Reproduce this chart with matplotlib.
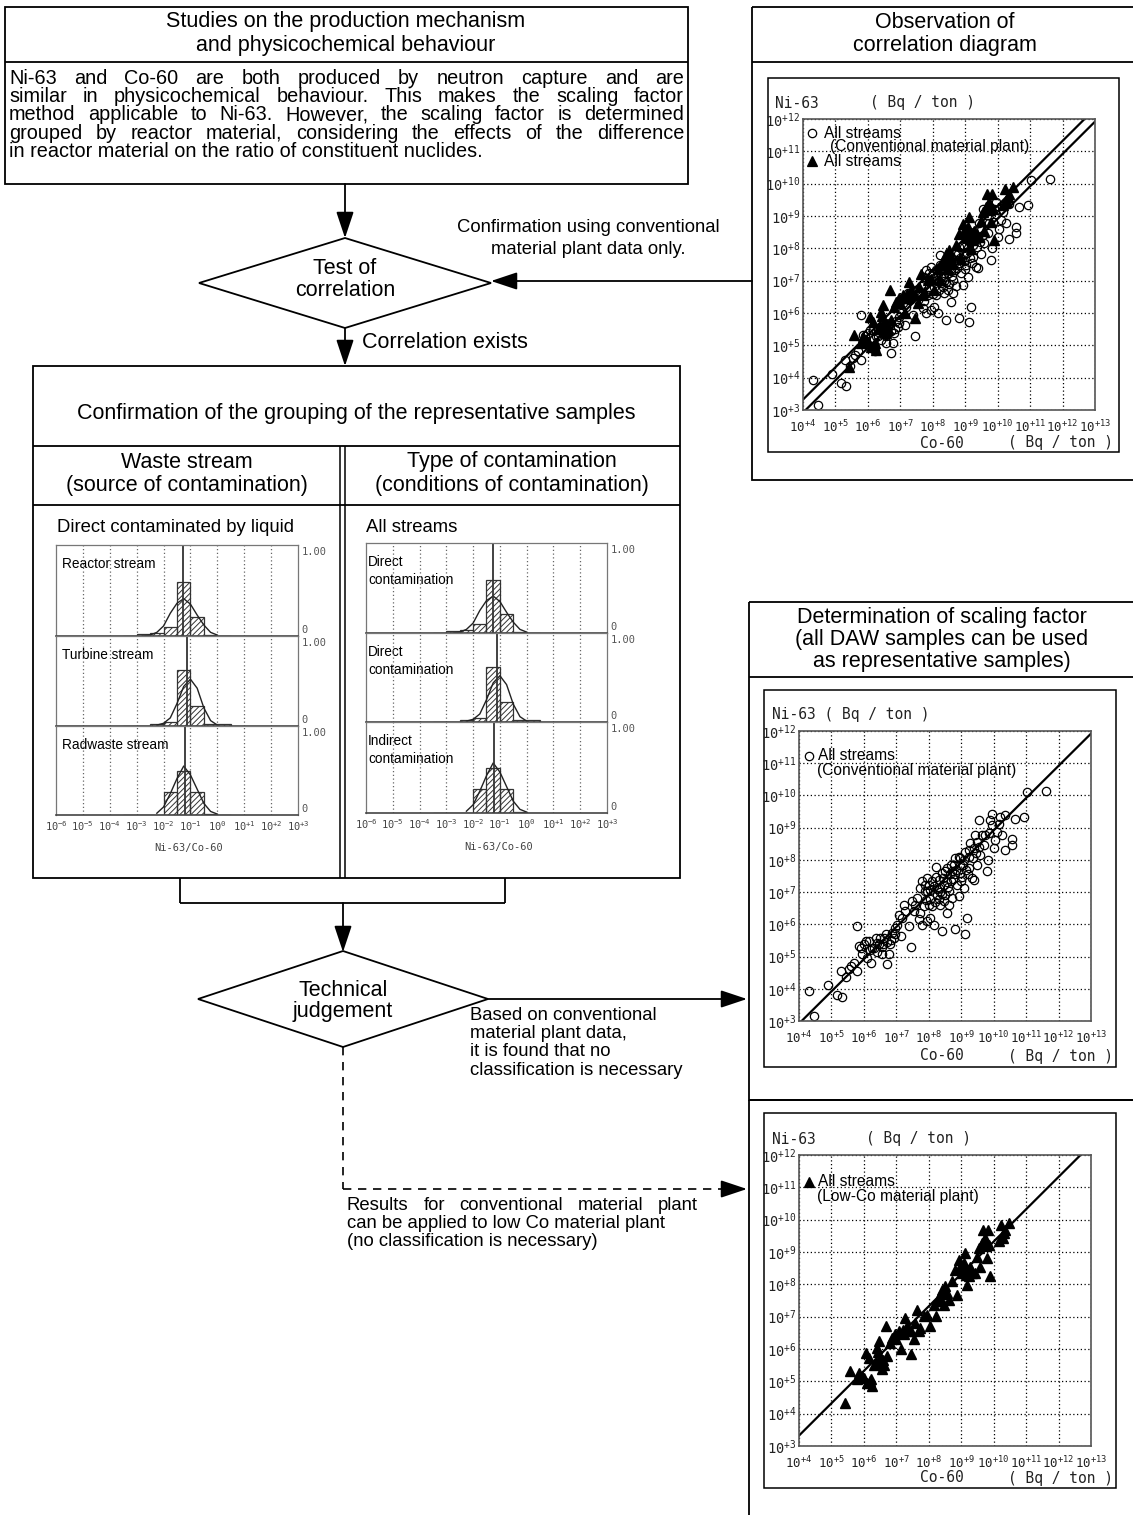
import numpy as np
import matplotlib
matplotlib.use("Agg")
import matplotlib.pyplot as plt
from matplotlib.patches import Polygon, Rectangle
from matplotlib.ticker import FixedLocator, FuncFormatter, NullLocator

W, H = 1133, 1515
SANS = "Liberation Sans"
MONO = "DejaVu Sans Mono"
plt.rcParams["hatch.linewidth"] = 0.7

# ---- histogram data (log10 of Ni-63/Co-60) ----
bin_edges = [-3.5, -3.0, -2.5, -2.0, -1.5, -1.0, -0.5, 0.0, 0.5]

reactor_h = [0.005, 0.02, 0.03, 0.10, 0.59, 0.21, 0.01, 0.0]
turbine_h = [0.0, 0.0, 0.02, 0.05, 0.62, 0.22, 0.02, 0.02]
radwaste_h = [0.0, 0.0, 0.0, 0.26, 0.50, 0.26, 0.01, 0.0]

reactor_mean = -1.27
turbine_mean = -1.11
radwaste_mean = -1.21

reactor_fit_x = [-2.75, -2.5, -2.25, -2.0, -1.75, -1.5, -1.25, -1.0, -0.75, -0.5, -0.25, 0.0]
reactor_fit_y = [0.0, 0.01, 0.04, 0.11, 0.25, 0.36, 0.41, 0.35, 0.23, 0.12, 0.04, 0.01]
turbine_fit_x = [-2.25, -2.0, -1.75, -1.5, -1.25, -1.0, -0.75, -0.5, -0.25, 0.0]
turbine_fit_y = [0.01, 0.03, 0.09, 0.25, 0.44, 0.52, 0.42, 0.20, 0.06, 0.01]
radwaste_fit_x = [-2.25, -2.0, -1.75, -1.5, -1.25, -1.0, -0.75, -0.5, -0.25, 0.0]
radwaste_fit_y = [0.02, 0.09, 0.24, 0.41, 0.55, 0.45, 0.29, 0.13, 0.04, 0.01]

# ---- correlation data, log10(Bq/ton) ----
conv_co = [4.31, 4.46, 4.89, 5.18, 5.33, 5.28, 5.44, 5.59, 5.79, 5.79,
           5.85, 5.95, 6.05, 6.10, 6.21, 6.26, 6.36, 6.46, 6.56, 6.62,
           6.72, 6.77, 6.82, 6.92, 6.97, 7.13, 7.18, 7.23, 7.38, 7.44,
           7.54, 7.59, 7.69, 7.79, 7.84, 7.89, 7.95, 8.00, 8.05, 8.10,
           8.15, 8.21, 8.26, 8.31, 8.41, 8.46, 8.51, 8.56, 8.62, 8.67,
           8.77, 8.82, 8.87, 8.92, 8.97, 9.03, 9.08, 9.11, 9.18, 9.23,
           9.33, 9.38, 9.44, 9.49, 9.54, 9.59, 9.69, 9.79, 9.82, 9.85,
           9.90, 9.95, 10.00, 10.05, 10.15, 10.21, 10.26, 10.36, 10.36, 10.56,
           10.56, 10.67, 10.92, 11.03, 11.61,
           5.54, 5.69, 5.90, 6.00, 6.15, 6.31, 6.41, 6.51, 6.67, 6.87,
           7.03, 7.08, 7.28, 7.49, 7.64, 7.74, 7.79, 7.87, 7.95, 8.05,
           8.10, 8.21, 8.31, 8.41, 8.46, 8.56, 8.67, 8.72, 8.82, 8.92,
           8.97, 9.08, 9.13, 9.23, 9.28, 9.38, 9.49, 9.64, 9.74, 9.95,
           10.10, 8.72, 8.62, 8.36, 7.95, 7.74,
           8.15, 8.25, 8.35, 8.45, 8.55, 8.65, 8.75, 8.85, 8.95, 9.05,
           9.15, 9.25, 9.35, 9.45, 9.55, 8.05, 8.18, 8.30, 8.40, 8.50,
           8.00, 7.90, 8.60, 8.80, 9.00, 9.20,
           6.20, 6.40, 6.55, 6.70, 6.85, 6.95, 6.60]
conv_ni = [3.94, 3.17, 4.11, 3.82, 3.74, 4.56, 4.35, 4.71, 4.56, 5.94,
           5.33, 5.07, 5.48, 4.97, 4.81, 5.28, 5.58, 5.38, 5.07, 5.58,
           4.76, 5.07, 5.38, 5.58, 5.89, 5.64, 6.20, 6.61, 5.94, 5.30,
           6.41, 6.61, 6.15, 5.99, 6.56, 7.02, 7.43, 7.23, 6.20, 6.56,
           5.99, 7.79, 6.92, 7.12, 5.79, 6.71, 7.64, 6.35, 7.02, 7.33,
           7.84, 5.84, 7.23, 6.87, 8.05, 7.48, 7.12, 5.71, 6.20, 7.74,
           7.43, 7.38, 8.77, 7.84, 9.23, 8.15, 8.46, 7.64, 8.00, 8.82,
           9.23, 9.43, 8.36, 8.61, 9.12, 9.33, 8.77, 9.38, 8.30, 8.66,
           8.46, 9.28, 9.33, 10.12, 10.15,
           4.61, 4.81, 5.28, 5.38, 5.48, 5.28, 5.43, 5.58, 5.69, 5.74,
           5.99, 6.30, 6.41, 6.71, 6.82, 7.12, 7.33, 7.23, 7.02, 7.07,
           7.33, 7.48, 7.38, 7.59, 7.23, 7.74, 7.84, 7.64, 8.05, 8.10,
           7.84, 8.00, 8.25, 8.10, 8.51, 8.36, 8.56, 8.77, 8.77, 9.07,
           8.87, 6.82, 6.61, 6.61, 6.10, 6.36,
           7.20, 7.10, 7.00, 7.45, 7.30, 7.55, 7.40, 7.70, 7.60, 7.85,
           7.70, 8.30, 8.05, 8.20, 8.40, 6.80, 6.70, 6.80, 6.95, 6.90,
           6.60, 6.75, 7.15, 7.55, 7.35, 7.55,
           5.20, 5.15, 5.30, 5.45, 5.50, 5.70, 5.40]

low_co = [5.42, 5.56, 5.79, 5.85, 5.95, 6.05, 6.10, 6.15, 6.21, 6.26,
          6.36, 6.41, 6.46, 6.51, 6.56, 6.62, 6.67, 6.72, 6.82, 6.87,
          6.97, 7.08, 7.15, 7.23, 7.28, 7.33, 7.38, 7.44, 7.54, 7.59,
          7.64, 7.69, 7.74, 7.85, 7.95, 8.05, 8.15, 8.21, 8.26, 8.31,
          8.41, 8.46, 8.51, 8.56, 8.62, 8.72, 8.82, 8.87, 8.92, 8.97,
          9.03, 9.08, 9.13, 9.18, 9.23, 9.28, 9.33, 9.44, 9.49, 9.54,
          9.59, 9.64, 9.67, 9.74, 9.79, 9.82, 9.85, 9.90, 10.17, 10.24,
          10.31, 10.36, 10.46, 10.28,
          6.00, 6.20, 6.30, 6.45, 6.50, 6.60, 7.00, 7.20, 7.45, 8.35,
          8.40, 9.10, 9.15, 9.30, 9.70, 9.75]
low_ni = [4.34, 5.32, 5.06, 5.27, 5.17, 5.88, 4.96, 5.73, 5.06, 4.86,
          5.58, 6.04, 6.24, 5.73, 5.37, 5.52, 6.71, 5.78, 6.19, 6.35,
          6.45, 6.55, 5.99, 6.45, 6.96, 6.71, 6.55, 5.83, 6.30, 6.81,
          7.22, 6.55, 6.66, 7.02, 7.06, 6.71, 7.37, 7.02, 7.47, 7.62,
          7.84, 7.37, 7.94, 7.73, 7.53, 8.09, 8.45, 7.68, 8.76, 8.55,
          8.35, 8.66, 8.96, 7.99, 8.25, 8.55, 8.35, 8.35, 8.86, 9.12,
          8.55, 9.27, 9.69, 9.43, 8.81, 9.69, 9.22, 8.25, 9.33, 9.84,
          9.58, 9.69, 9.89, 9.43,
          5.10, 5.00, 5.50, 5.90, 5.60, 5.65, 6.30, 6.60, 6.55, 7.50,
          7.70, 8.40, 8.30, 8.45, 9.35, 9.20]

# scaling factors (Ni-63 / Co-60)
sf_conv = 0.083
sf_low = 0.21

BIG = 15.5     # box titles, decisions
BODY = 14.3    # justified paragraph
NOTE = 13.3    # side notes on the arrows

fig = plt.figure(figsize=(W / 100, H / 100), dpi=100)
base = fig.add_axes([0, 0, 1, 1])
base.set_xlim(0, W)
base.set_ylim(H, 0)
base.axis("off")
renderer = fig.canvas.get_renderer()


def px_axes(x0, y0, x1, y1):
    ax = fig.add_axes([x0 / W, 1 - y1 / H, (x1 - x0) / W, (y1 - y0) / H])
    ax.patch.set_visible(False)
    return ax


def pow_label(v, pos=None):
    k = int(round(np.log10(v)))
    if k == 0:
        return r"$\mathregular{10^{0}}$"
    return r"$\mathregular{10^{%+d}}$" % k


def line(xs, ys, **kw):
    kw.setdefault("color", "k")
    kw.setdefault("lw", 1.3)
    base.plot(xs, ys, solid_capstyle="butt", **kw)


def arrow(x0, y0, x1, y1):
    base.annotate("", xy=(x1, y1), xytext=(x0, y0),
                  arrowprops=dict(arrowstyle="-|>,head_length=0.9,head_width=0.3",
                                  color="k", lw=1.3, mutation_scale=18,
                                  shrinkA=0, shrinkB=0))


def box(x0, y0, x1, y1, lw=1.3):
    base.add_patch(Rectangle((x0, y0), x1 - x0, y1 - y0, fill=False,
                             lw=lw, ec="k"))


def txt(x, y, s, size=BIG, ha="center", **kw):
    base.text(x, y, s, fontsize=size, family=SANS, ha=ha, va="center", **kw)


def justified(x0, x1, y, s, size=BODY):
    words = s.split()
    items = [base.text(0, y, w, fontsize=size, family=SANS, ha="left",
                       va="center") for w in words]
    widths = [t.get_window_extent(renderer).width for t in items]
    gap = (x1 - x0 - sum(widths)) / (len(words) - 1)
    x = x0
    for t, w in zip(items, widths):
        t.set_x(x)
        x += w + gap


def diamond(cx, cy, hw, hh):
    base.add_patch(Polygon([(cx - hw, cy), (cx, cy - hh), (cx + hw, cy),
                            (cx, cy + hh)], closed=True, fill=False,
                           lw=1.3, ec="k"))


# ---- top-left box ----
box(5, 7, 688, 184)
line([5, 688], [62, 62])
txt(346, 22, "Studies on the production mechanism")
txt(346, 45, "and physicochemical behaviour")
body = ["Ni-63 and Co-60 are both produced by neutron capture and are",
        "similar in physicochemical behaviour. This makes the scaling factor",
        "method applicable to Ni-63. However, the scaling factor is determined",
        "grouped by reactor material, considering the effects of the difference"]
for i, s in enumerate(body):
    justified(9, 684, 78 + 18.4 * i, s)
txt(9, 78 + 18.4 * 4, "in reactor material on the ratio of constituent nuclides.",
    size=BODY, ha="left")

# ---- test of correlation ----
arrow(345, 184, 345, 238)
diamond(345, 283, 146, 45)
txt(345, 268, "Test of")
txt(345, 290, "correlation")
arrow(752, 281, 491, 281)
txt(588, 228, "Confirmation using conventional", size=NOTE)
txt(588, 249, "material plant data only.", size=NOTE)
arrow(345, 328, 345, 366)
txt(362, 342, "Correlation exists", ha="left")

# ---- grouping box ----
box(33, 366, 680, 878)
line([33, 680], [446, 446])
line([33, 680], [505, 505])
line([340, 340], [446, 878], lw=1.1)
line([345, 345], [446, 878], lw=1.1)
txt(356, 413, "Confirmation of the grouping of the representative samples")
txt(187, 462, "Waste stream")
txt(187, 486, "(source of contamination)")
txt(512, 462, "Type of contamination")
txt(512, 486, "(conditions of contamination)")
txt(57, 527, "Direct contaminated by liquid", size=13.3, ha="left")
txt(366, 528, "All streams", size=13.3, ha="left")

hist_sets = [(reactor_h, reactor_mean, reactor_fit_x, reactor_fit_y),
             (turbine_h, turbine_mean, turbine_fit_x, turbine_fit_y),
             (radwaste_h, radwaste_mean, radwaste_fit_x, radwaste_fit_y)]
left_labels = [["Reactor stream"], ["Turbine stream"], ["Radwaste stream"]]
right_labels = [["Direct", "contamination"], ["Direct", "contamination"],
                ["Indirect", "contamination"]]
columns = [(56, 298, [545, 636, 726, 815], left_labels, 6),
           (366, 607, [543, 633, 722, 813], right_labels, 2)]

edges = 10.0 ** np.array(bin_edges)
for x0, x1, ys, labels, lx in columns:
    for i, (hts, mean, fx, fy) in enumerate(hist_sets):
        ax = px_axes(x0, ys[i], x1, ys[i + 1])
        ax.set_xscale("log")
        ax.set_xlim(1e-6, 1e3)
        ax.set_ylim(0, 1)
        for k in range(-5, 3):
            ax.axvline(10.0 ** k, color="#666", ls=(0, (1, 2)), lw=0.9, zorder=0)
        ax.bar(edges[:-1], hts, width=np.diff(edges), align="edge",
               fill=False, hatch="//////", edgecolor="#333", lw=0.9)
        ax.plot(10.0 ** np.array(fx), fy, color="#222", lw=1.0)
        ax.axvline(10.0 ** mean, color="#333", lw=1.3)
        ax.set_yticks([])
        ax.yaxis.set_minor_locator(NullLocator())
        for s in ["left", "right", "top"]:
            ax.spines[s].set_color("#777")
            ax.spines[s].set_linewidth(0.9)
        ax.spines["bottom"].set_color("#444")
        ax.spines["bottom"].set_linewidth(1.2)
        ax.text(1.015, 0.98, "1.00", transform=ax.transAxes, family=MONO,
                fontsize=7.5, color="#555", va="top", ha="left")
        ax.text(1.015, 0.01, "0", transform=ax.transAxes, family=MONO,
                fontsize=7.5, color="#555", va="bottom", ha="left")
        ax.xaxis.set_minor_locator(NullLocator())
        if i == 2:
            ax.xaxis.set_major_locator(FixedLocator(10.0 ** np.arange(-6, 4)))
            ax.xaxis.set_major_formatter(FuncFormatter(pow_label))
            ax.tick_params(axis="x", length=0, pad=3, labelsize=7.5,
                           labelcolor="#444", labelfontfamily=MONO)
            ax.text(0.55, -0.32, "Ni-63/Co-60", transform=ax.transAxes,
                    family=MONO, fontsize=7.5, color="#444", ha="center", va="top")
        else:
            ax.set_xticks([])
        for j, s in enumerate(labels[i]):
            base.text(x0 + lx, ys[i] + 19 + 18 * j, s, fontsize=9.8, family=SANS,
                      ha="left", va="center")

# ---- bracket and technical judgement ----
line([180, 180], [878, 903])
line([505, 505], [878, 903])
line([180, 505], [903, 903])
arrow(343, 903, 343, 952)
diamond(343, 999, 145, 48)
txt(343, 990, "Technical")
txt(343, 1012, "judgement")
arrow(488, 999, 747, 999)
for i, s in enumerate(["Based on conventional", "material plant data,",
                       "it is found that no", "classification is necessary"]):
    txt(470, 1015 + 18.5 * i, s, size=NOTE, ha="left")
line([343, 343], [1047, 1189], lw=1.2, ls=(0, (5, 4)))
line([343, 735], [1189, 1189], lw=1.2, ls=(0, (5, 4)))
arrow(733, 1189, 747, 1189)
justified(347, 698, 1205, "Results for conventional material plant", size=NOTE)
txt(347, 1223, "can be applied to low Co material plant", size=NOTE, ha="left")
txt(347, 1241, "(no classification is necessary)", size=NOTE, ha="left")

# ---- right column boxes ----
box(752, 7, 1140, 480)
line([752, 1140], [62, 62])
txt(945, 22, "Observation of")
txt(945, 45, "correlation diagram")

box(749, 602, 1140, 1100)
line([749, 1140], [677, 677])
txt(942, 617, "Determination of scaling factor")
txt(942, 640, "(all DAW samples can be used")
txt(942, 662, "as representative samples)")

box(749, 1100, 1140, 1530)


def corr_axes(frame, pos, ylab, xlab_y, series, legend):
    box(*frame, lw=1.1)
    ax = px_axes(*pos)
    ax.set_xscale("log")
    ax.set_yscale("log")
    ax.set_xlim(1e4, 1e13)
    ax.set_ylim(1e3, 1e12)
    ax.xaxis.set_major_locator(FixedLocator(10.0 ** np.arange(4, 14)))
    ax.yaxis.set_major_locator(FixedLocator(10.0 ** np.arange(3, 13)))
    ax.xaxis.set_minor_locator(NullLocator())
    ax.yaxis.set_minor_locator(NullLocator())
    ax.xaxis.set_major_formatter(FuncFormatter(pow_label))
    ax.yaxis.set_major_formatter(FuncFormatter(pow_label))
    ax.grid(True, color="k", ls=(0, (1, 2)), lw=0.9)
    ax.set_axisbelow(True)
    for s in ax.spines.values():
        s.set_color("#555")
        s.set_linewidth(1.2)
    ax.tick_params(axis="x", length=0, pad=6, labelsize=9,
                   labelfontfamily=MONO, labelcolor="#222")
    ax.tick_params(axis="y", length=0, pad=2, labelsize=9.8,
                   labelfontfamily=MONO, labelcolor="#222")
    xs = np.array([1e4, 1e13])
    for co, ni, marker, sf in series:
        if marker == "o":
            ax.plot(10.0 ** np.array(co), 10.0 ** np.array(ni), "o", ms=6,
                    mfc="none", mec="k", mew=0.9, clip_on=False)
        else:
            ax.plot(10.0 ** np.array(co), 10.0 ** np.array(ni), "^", ms=7,
                    color="k", clip_on=False)
    for co, ni, marker, sf in series:
        ax.plot(xs, sf * xs, color="k", lw=1.6)
    for x, s in ylab:
        base.text(x, pos[1] - 16, s, family=MONO, fontsize=10.5, color="#222",
                  ha="left" if s.startswith("Ni") else "center", va="center")
    base.text(942, xlab_y, "Co-60", family=MONO, fontsize=10.5, color="#222",
              ha="center", va="center")
    base.text(1060, xlab_y, "( Bq / ton )", family=MONO, fontsize=10.5,
              color="#222", ha="center", va="center")
    for mx, my, marker, s, tx in legend:
        if marker:
            base.plot(mx, my, marker, ms=6 if marker == "o" else 7,
                      mfc="none" if marker == "o" else "k", mec="k", mew=0.9)
        base.text(tx, my, s, fontsize=11.2, family=SANS, ha="left", va="center")
    return ax


corr_axes((768, 78, 1119, 452), (803, 119, 1095, 410),
          [(775, "Ni-63"), (922, "( Bq / ton )")], 443,
          [(conv_co, conv_ni, "o", sf_conv), (low_co, low_ni, "^", sf_low)],
          [(812, 133, "o", "All streams", 824),
           (0, 147, None, "(Conventional material plant)", 830),
           (812, 161, "^", "All streams", 824)])

corr_axes((764, 690, 1116, 1067), (799, 731, 1091, 1021),
          [(772, "Ni-63 ( Bq / ton )")], 1056,
          [(conv_co, conv_ni, "o", sf_conv)],
          [(809, 756, "o", "All streams", 818),
           (0, 771, None, "(Conventional material plant)", 817)])

corr_axes((764, 1113, 1116, 1488), (799, 1155, 1091, 1446),
          [(772, "Ni-63"), (918, "( Bq / ton )")], 1478,
          [(low_co, low_ni, "^", sf_low)],
          [(809, 1182, "^", "All streams", 818),
           (0, 1196, None, "(Low-Co material plant)", 817)])

fig.savefig("out.png", dpi=100)
